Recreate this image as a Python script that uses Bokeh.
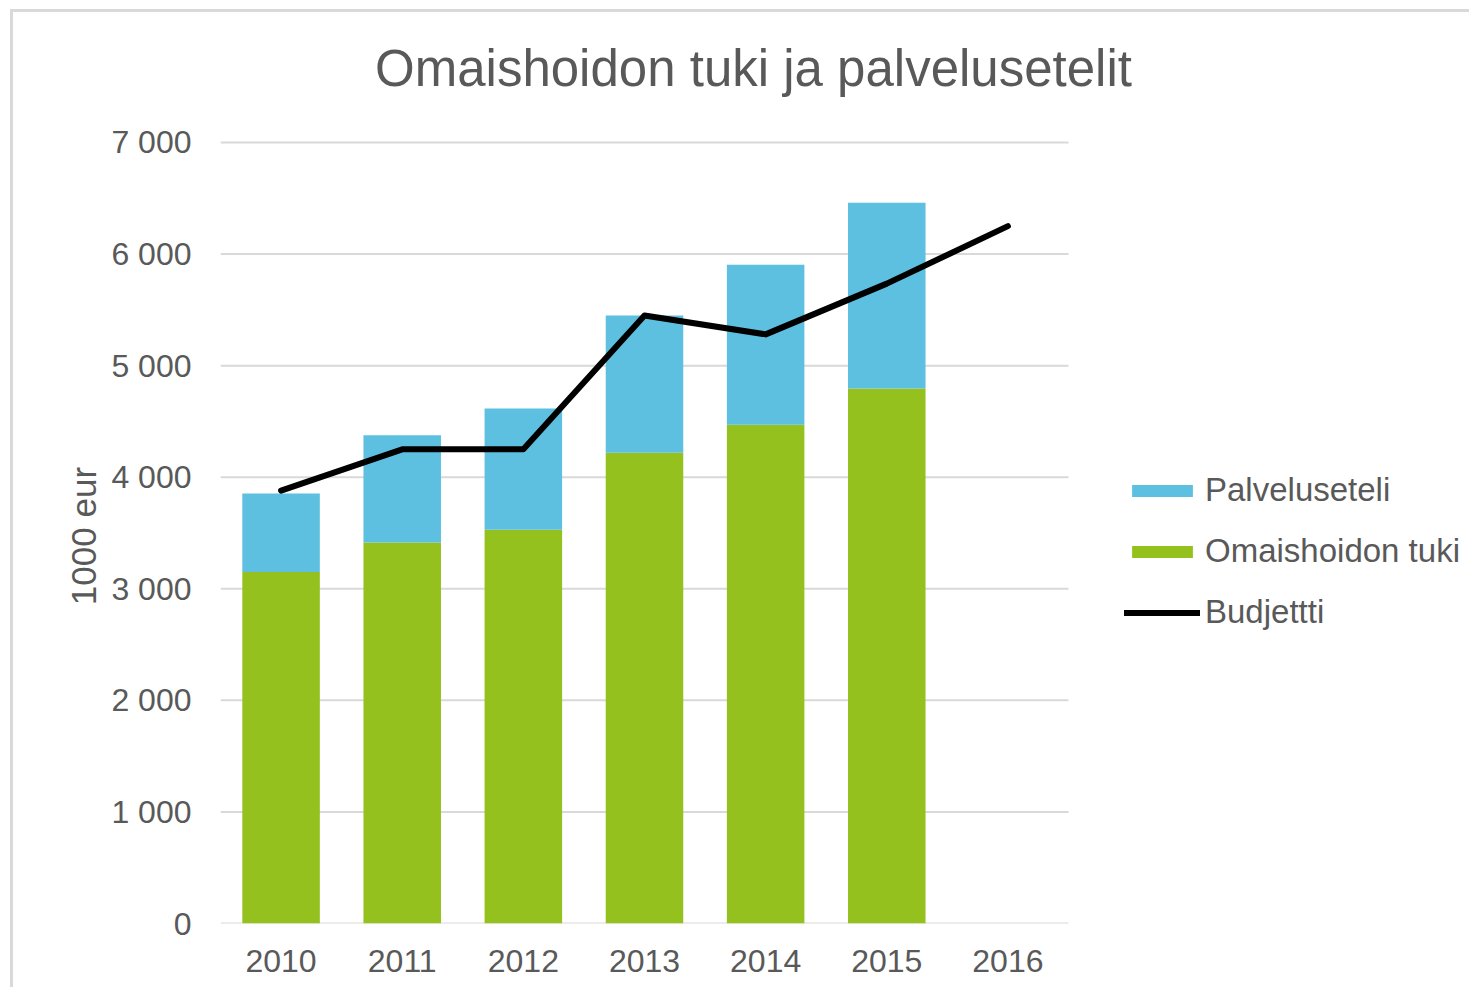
from bokeh.plotting import figure
from bokeh.models import Range1d, FixedTicker, Legend, LegendItem, Label, ColumnDataSource
from bokeh.embed import file_html
from bokeh.resources import INLINE

years = ["2010", "2011", "2012", "2013", "2014", "2015", "2016"]
omaishoidon_tuki = [3150, 3415, 3530, 4220, 4470, 4795, 0]
palveluseteli = [705, 960, 1085, 1230, 1435, 1665, 0]
budjetti = [3880, 4250, 4250, 5450, 5280, 5735, 6250]
ytick_values = [0, 1000, 2000, 3000, 4000, 5000, 6000, 7000]
ytick_labels = ["0", "1 000", "2 000", "3 000", "4 000", "5 000", "6 000", "7 000"]

title_text = "Omaishoidon tuki ja palvelusetelit"
ylabel_text = "1000 eur"
FONT = "Liberation Sans"
TXT = "#595959"
GREEN = "#95C11F"
BLUE = "#5EC0E0"
GRID = "#d9d9d9"

xpos = list(range(len(years)))
n = len(years)

p = figure(
    width=1459, height=978,
    x_range=Range1d(-0.5, 9.835),
    y_range=Range1d(0, 8165),
    output_backend="svg", toolbar_location=None,
    min_border_left=207, min_border_right=0,
    min_border_top=0, min_border_bottom=67,
)
p.styles = {"border-left": "3px solid #d9d9d9", "border-top": "3px solid #d9d9d9",
            "margin-left": "10px", "margin-top": "9px"}
p.outline_line_color = None
p.xgrid.grid_line_color = None
p.ygrid.grid_line_color = None

# horizontal gridlines over the category span
p.segment(x0=[-0.5] * len(ytick_values), x1=[n - 0.5] * len(ytick_values),
          y0=ytick_values, y1=ytick_values, line_color=GRID, line_width=2)

src = ColumnDataSource(dict(x=xpos, omaishoidon=omaishoidon_tuki, palvelu=palveluseteli))
bars = p.vbar_stack(["omaishoidon", "palvelu"], x="x", width=0.64,
                    color=[GREEN, BLUE], line_color=None, source=src)
line = p.line(xpos, budjetti, line_width=6, line_color="black",
              line_cap="round", line_join="round")

yax = p.yaxis[0]
yax.ticker = FixedTicker(ticks=ytick_values)
yax.major_label_overrides = {v: l for v, l in zip(ytick_values, ytick_labels)}
yax.axis_line_color = None
yax.major_tick_line_color = None
yax.minor_tick_line_color = None
yax.major_label_text_font = FONT
yax.major_label_text_font_size = "32px"
yax.major_label_text_color = TXT
yax.major_label_standoff = 23
# trailing no-break spaces shift the rotated label down to the 0-7000 span centre
yax.axis_label = ylabel_text + "\u00a0" * 14
yax.axis_label_text_font = FONT
yax.axis_label_text_font_size = "35px"
yax.axis_label_text_font_style = "normal"
yax.axis_label_text_color = TXT
yax.axis_label_standoff = 5

xax = p.xaxis[0]
xax.ticker = FixedTicker(ticks=xpos)
xax.major_label_overrides = {i: y for i, y in zip(xpos, years)}
xax.axis_line_color = None
xax.major_tick_line_color = None
xax.minor_tick_line_color = None
xax.major_label_text_font = FONT
xax.major_label_text_font_size = "32px"
xax.major_label_text_color = TXT
xax.major_label_standoff = 20

title = Label(x=533, y=855, x_units="screen", y_units="screen", text=title_text,
              text_align="center", text_baseline="alphabetic",
              text_font=FONT, text_font_size="51px", text_color=TXT)
p.add_layout(title)

legend = Legend(
    items=[
        LegendItem(label="Palveluseteli", renderers=[bars[1]]),
        LegendItem(label="Omaishoidon tuki", renderers=[bars[0]]),
        LegendItem(label="Budjettti", renderers=[line]),
    ],
    location=(904, 292),
    orientation="vertical",
    padding=0, margin=0, spacing=23,
    glyph_width=76, glyph_height=15,
    label_standoff=5,
    label_text_font=FONT, label_text_font_size="33px", label_text_color=TXT,
    border_line_color=None, background_fill_alpha=0,
)
p.add_layout(legend, "center")

open("out.html", "w").write(file_html(p, INLINE))
